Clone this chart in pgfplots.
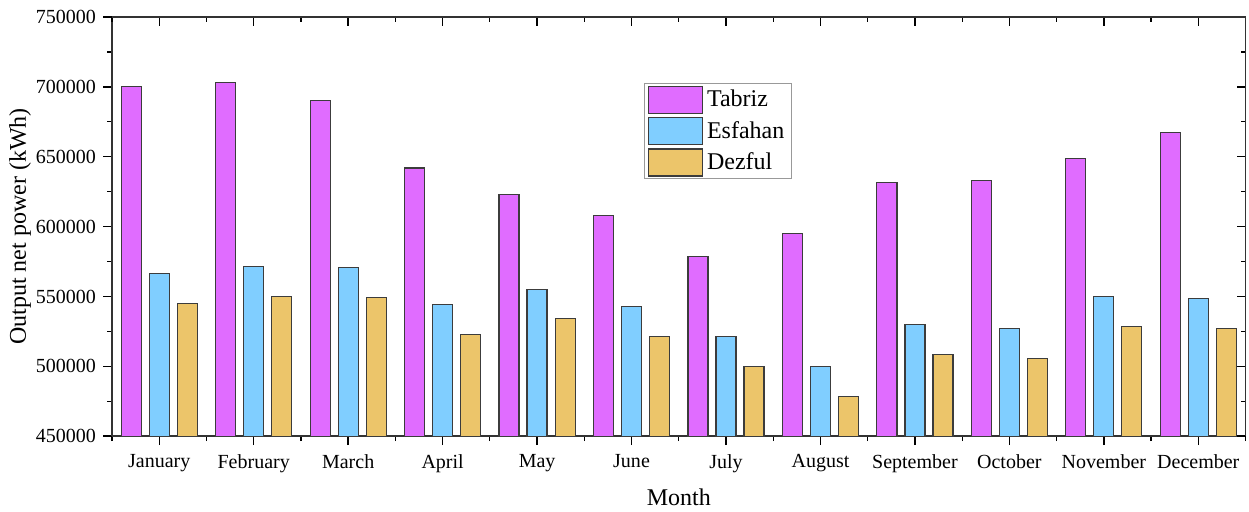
\documentclass[border=0pt]{standalone}
\usepackage{pgfplots}
\pgfplotsset{compat=1.18}
\usepackage{fontspec}
\setmainfont{Liberation Serif}
\definecolor{ctab}{RGB}{224,108,255}
\definecolor{cesf}{RGB}{128,206,255}
\definecolor{cdez}{RGB}{236,197,106}
\definecolor{cedge}{RGB}{60,60,60}
\begin{document}
\begin{tikzpicture}
\pgfplotsset{
  common/.style={
    scale only axis, width=566.5pt, height=209.5pt,
    at={(0,0)}, anchor=south west,
    xmin=-0.5, xmax=11.5, ymin=450000, ymax=750000,
    xtick={0,...,11}, minor xtick={-0.5,0.5,...,11.5},
    ytick={450000,500000,...,750000}, minor ytick={475000,525000,...,725000},
    major tick length=4.5pt, minor tick length=2.5pt,
    every tick/.style={line width=0.75pt, black},
    every minor tick/.style={line width=0.6pt, black},
    axis line style={line width=0.75pt, black!80},
    scaled y ticks=false,
    tick label style={font=\fontsize{10}{12}\selectfont},
  }
}
\begin{axis}[common,
  axis x line*=bottom, axis y line*=left, tick align=outside,
  xticklabels={January,February,March,April,May,June,July,August,September,October,November,December},
  yticklabels={450000,500000,550000,600000,650000,700000,750000},
  xticklabel style={yshift=-1pt},
  xlabel={Month}, ylabel={Output net power (kWh)},
  every axis x label/.style={at={([yshift=-30.5pt]axis description cs:0.5,0)}, anchor=center, font=\fontsize{12}{14}\selectfont},
  every axis y label/.style={at={([xshift=-46pt]axis description cs:0,0.5)}, rotate=90, anchor=center, font=\fontsize{12}{14}\selectfont},
  legend style={at={(axis description cs:0.4696,0.8425)}, anchor=north west, draw=black!40, line width=0.5pt,
    inner xsep=1.5pt, inner ysep=1.2pt, row sep=1.5pt, font=\fontsize{12}{14}\selectfont,
    cells={anchor=west}},
  legend image code/.code={\draw[#1, line width=0.6pt] (0pt,-6.75pt) rectangle (27pt,6.75pt);},
  legend cell align=left,
]
\addplot[ybar, bar width=10pt, bar shift=-14pt, fill=ctab, draw=cedge, line width=0.6pt] coordinates {
(0,700000) (1,702900) (2,690500) (3,642000) (4,623000) (5,608000) (6,578600) (7,594800) (8,631800) (9,633000) (10,649000) (11,667100)};
\addplot[ybar, bar width=10pt, bar shift=0pt, fill=cesf, draw=cedge, line width=0.6pt] coordinates {
(0,566400) (1,571500) (2,570500) (3,544200) (4,555200) (5,543000) (6,521100) (7,500000) (8,530000) (9,527300) (10,550200) (11,548300)};
\addplot[ybar, bar width=10pt, bar shift=14pt, fill=cdez, draw=cedge, line width=0.6pt] coordinates {
(0,545000) (1,550000) (2,549000) (3,522800) (4,534000) (5,521600) (6,499600) (7,478200) (8,508700) (9,505600) (10,528700) (11,526800)};
\legend{Tabriz,Esfahan,Dezful}
\end{axis}
\begin{axis}[common,
  axis x line*=top, axis y line*=right, tick align=inside,
  xticklabels={}, yticklabels={},
]
\end{axis}
\pgfresetboundingbox
\path (-56pt,-37.5pt) rectangle (568.25pt,218pt);
\end{tikzpicture}
\end{document}
